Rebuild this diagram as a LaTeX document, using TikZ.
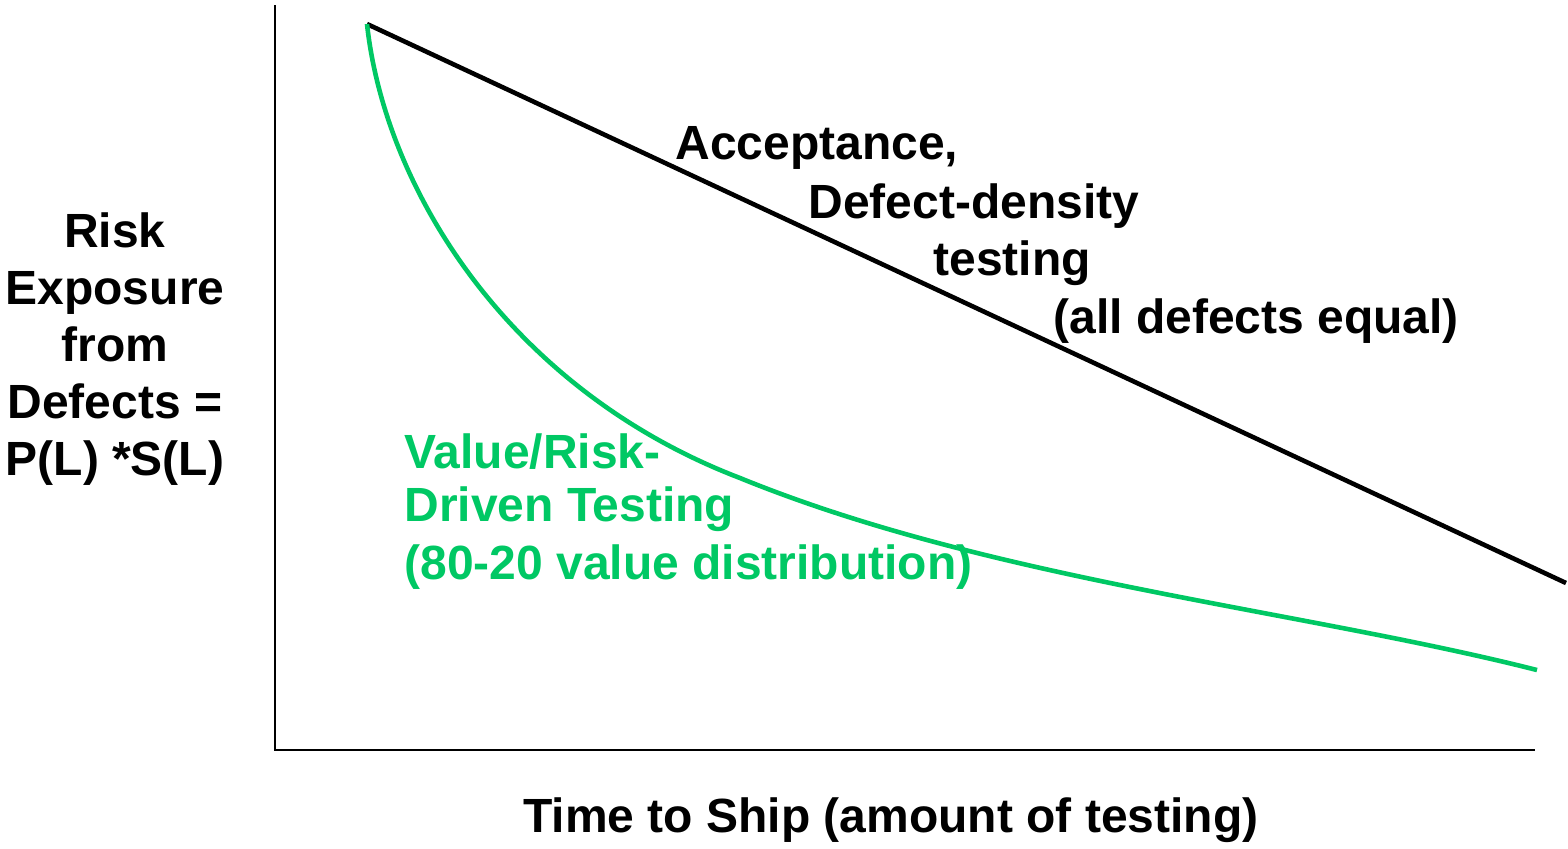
\documentclass[tikz,border=0pt]{standalone}
\usepackage{fontspec}
\setmainfont{Liberation Sans}
\definecolor{riskgreen}{RGB}{0,200,100}
\tikzset{
  lbl/.style={font=\bfseries\fontsize{24}{28.5}\selectfont, inner sep=0pt},
  axis/.style={line width=1pt},
}
\begin{document}
\begin{tikzpicture}[x=0.5pt, y=-0.5pt]
    \useasboundingbox (0,0) rectangle (1568,848);
    % axes
    \coordinate (top) at (275,5);
    \coordinate (origin) at (275,750);
    \coordinate (right) at (1535,750);
    \draw[axis] (top) -- (origin) -- (right);
    % curves
    \coordinate (start) at (367,24);
    \coordinate (endblack) at (1566,583);
    \coordinate (mid) at (740,478);
    \coordinate (endgreen) at (1537,670);
    \draw[line width=2.3pt] (start) -- (endblack);
    \draw[line width=2.3pt, riskgreen] (start) .. controls (385,190) and (510,390) .. (mid)
      .. controls (990,580) and (1300,610) .. (endgreen);
    % labels
    \node[lbl, align=center] (ylabel) at (115,349)
      {Risk\\Exposure\\from\\Defects =\\P(L) *S(L)};
    \node[lbl] (xlabel) at (891,820) {Time to Ship (amount of testing)};
    \node[lbl, anchor=west] (acc) at (675,148) {Acceptance,};
    \node[lbl, anchor=west] (dd) at (808,206) {Defect-density};
    \node[lbl, anchor=west] (tst) at (933,263) {testing};
    \node[lbl, anchor=west] (eq) at (1053,321) {(all defects equal)};
    \node[lbl, anchor=west, riskgreen] (vr) at (404,452) {Value/Risk-};
    \node[lbl, anchor=west, riskgreen] (drv) at (404,509) {Driven Testing};
    \node[lbl, anchor=west, riskgreen] (dist) at (404,567) {(80-20 value distribution)};
\end{tikzpicture}
\end{document}
